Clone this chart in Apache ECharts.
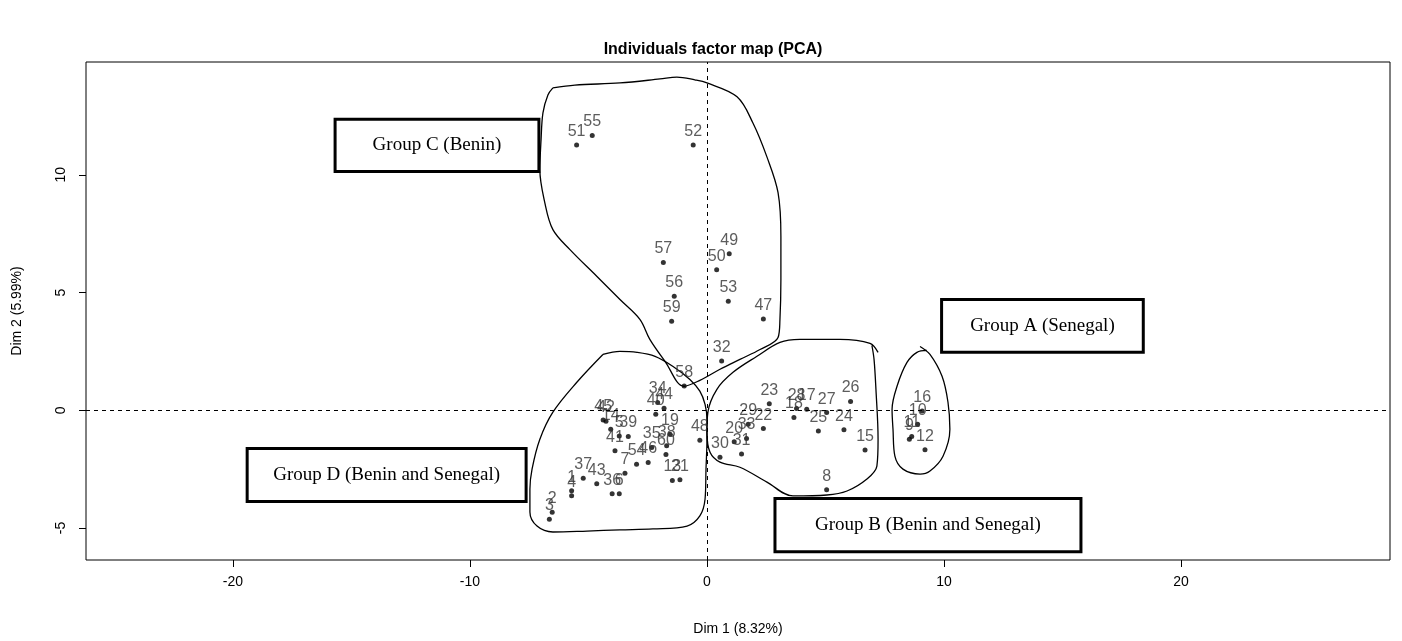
<!DOCTYPE html>
<html>
<head>
<meta charset="utf-8">
<script src="https://cdn.jsdelivr.net/npm/echarts@6/dist/echarts.min.js"></script>
<style>
  html, body { margin: 0; padding: 0; background: #fff; }
  #chart { width: 1402px; height: 641px; }
</style>
</head>
<body>
<div id="chart"></div>
<script>
var chartDom = document.getElementById('chart');
var myChart = echarts.init(chartDom);

// individuals (labels + coordinates on Dim 1 / Dim 2)
var pointIds = ['51', '55', '52', '57', '49', '50', '56', '53', '59', '47', '32', '58',
  '34', '44', '40', '45', '42', '14', '5', '39', '41', '35', '19', '38', '60', '54', '46', '7',
  '13', '21', '37', '43', '1', '4', '36', '6', '2', '3', '48',
  '23', '28', '18', '17', '27', '26', '25', '24', '15', '8', '22', '29', '33', '20', '31', '30',
  '16', '10', '11', '9', '12'];
var dim1 = [-5.50, -4.84, -0.58, -1.84, 0.94, 0.41, -1.38, 0.90, -1.49, 2.38, 0.62, -0.96,
  -2.08, -1.81, -2.16, -4.38, -4.26, -4.06, -3.70, -3.32, -3.88, -2.33, -1.56, -1.70, -1.73, -2.97, -2.48, -3.46,
  -1.46, -1.14, -5.22, -4.65, -5.71, -5.71, -4.00, -3.70, -6.53, -6.65, -0.30,
  2.63, 3.78, 3.67, 4.21, 5.05, 6.06, 4.70, 5.78, 6.67, 5.05, 2.38, 1.74, 1.67, 1.15, 1.46, 0.55,
  9.08, 8.89, 8.64, 8.54, 9.20];
var dim2 = [11.27, 11.67, 11.27, 6.28, 6.65, 5.97, 4.84, 4.63, 3.78, 3.88, 2.09, 1.03,
  0.33, 0.08, -0.17, -0.41, -0.47, -0.81, -1.09, -1.11, -1.72, -1.58, -1.02, -1.51, -1.88, -2.29, -2.22, -2.68,
  -2.98, -2.95, -2.89, -3.12, -3.42, -3.63, -3.55, -3.55, -4.33, -4.63, -1.27,
  0.28, 0.07, -0.31, 0.04, -0.10, 0.37, -0.88, -0.83, -1.69, -3.38, -0.78, -0.59, -1.20, -1.34, -1.86, -2.00,
  -0.03, -0.59, -1.11, -1.23, -1.68];

var xTicks = [-20, -10, 0, 10, 20];
var yTicks = [-5, 0, 5, 10];

// hand drawn group outlines
var outlineA = [[8.99, 2.71], [9.41, 2.37], [9.92, 1.44], [10.17, 0.34], [10.25, -0.81], [9.96, -1.95],
  [9.41, -2.58], [8.99, -2.71], [8.27, -2.50], [7.93, -1.95], [7.85, -0.81], [7.81, 0.04],
  [8.02, 1.02], [8.44, 2.03], [8.86, 2.46], [9.28, 2.54]];
var outlineB = [[7.22, 2.46], [6.88, 2.84], [5.61, 3.01], [3.92, 3.01], [3.08, 2.88], [2.11, 2.29],
  [1.10, 1.61], [0.42, 0.89], [0.04, -0.08], [0.00, -0.93], [0.13, -1.78], [0.55, -2.20],
  [1.39, -2.42], [2.53, -3.05], [3.63, -3.64], [5.06, -3.60], [5.91, -3.43], [6.75, -2.92],
  [7.17, -2.37], [7.22, -1.23], [7.13, 0.89], [7.05, 2.16], [6.96, 2.75]];
var outlineC = [[-6.50, 13.69], [-5.57, 13.81], [-3.67, 13.90], [-1.98, 14.07], [-1.27, 14.15],
  [-0.51, 14.03], [0.00, 13.90], [1.27, 13.31], [1.94, 12.20], [2.53, 10.76], [3.00, 9.24],
  [3.12, 7.37], [3.12, 5.55], [3.08, 3.86], [3.00, 3.09], [2.24, 2.58], [1.39, 2.16], [0.55, 1.74],
  [-0.30, 1.27], [-0.97, 1.02], [-1.77, 2.08], [-2.41, 3.01], [-2.83, 3.86], [-3.67, 4.70],
  [-4.64, 5.68], [-5.78, 6.82], [-6.50, 7.67], [-6.84, 8.81], [-7.05, 10.21], [-7.00, 11.48],
  [-6.92, 12.63], [-6.71, 13.39], [-6.50, 13.69]];
var outlineD = [[-4.39, 2.37], [-3.67, 2.50], [-2.95, 2.46], [-2.19, 2.29], [-1.43, 1.86], [-0.72, 1.31],
  [-0.30, 0.81], [-0.08, 0.25], [0.00, -0.38], [0.00, -1.23], [-0.04, -2.50], [-0.08, -3.77],
  [-0.30, -4.49], [-0.84, -4.92], [-2.28, -5.04], [-3.67, -5.08], [-5.06, -5.13], [-6.50, -5.17],
  [-7.17, -4.92], [-7.47, -4.32], [-7.47, -3.35], [-7.38, -2.50], [-7.05, -1.23], [-6.50, -0.08],
  [-5.49, 1.19], [-4.39, 2.37]];

// group boxes: left, top, right, bottom (data units)
var boxLabels = ['Group A (Senegal)', 'Group B (Benin and Senegal)', 'Group C (Benin)', 'Group D (Benin and Senegal)'];
var boxX0 = [9.90, 2.87, -15.69, -19.40];
var boxY0 = [4.70, -3.75, 12.36, -1.62];
var boxX1 = [18.41, 15.78, -7.09, -7.63];
var boxY1 = [2.46, -6.01, 10.14, -3.88];

var points = [];
pointIds.forEach(function (id, i) {
  points.push({ name: id, value: [dim1[i], dim2[i]] });
});

var boxes = [];
boxLabels.forEach(function (lab, i) {
  boxes.push([boxX0[i], boxY0[i], boxX1[i], boxY1[i]]);
});

function outlineSeries(data) {
  return {
    type: 'line',
    data: data,
    smooth: 0.35,
    symbol: 'none',
    silent: true,
    lineStyle: { color: '#000', width: 1.3 },
    z: 2
  };
}

var option = {
  animation: false,
  backgroundColor: '#fff',
  title: {
    text: 'Individuals factor map (PCA)',
    left: 708,
    top: 37,
    textAlign: 'center',
    textStyle: { fontFamily: 'Liberation Sans', fontSize: 16, fontWeight: 'bold', color: '#000' }
  },
  grid: {
    left: 86, right: 12, top: 62, bottom: 80,
    show: true, borderColor: '#000', borderWidth: 1
  },
  xAxis: {
    type: 'value',
    min: -26.2,
    max: 28.82,
    name: 'Dim 1 (8.32%)',
    nameLocation: 'middle',
    nameGap: 62,
    nameTextStyle: { fontFamily: 'Liberation Sans', fontSize: 14, color: '#000' },
    axisLine: { show: false, onZero: false },
    splitLine: { show: false },
    axisTick: { show: true, inside: false, length: 7, customValues: xTicks, lineStyle: { color: '#000' } },
    axisLabel: { customValues: xTicks, margin: 15, fontFamily: 'Liberation Sans', fontSize: 14, color: '#000' }
  },
  yAxis: {
    type: 'value',
    min: -6.36,
    max: 14.79,
    name: 'Dim 2 (5.99%)',
    nameLocation: 'middle',
    nameGap: 62,
    nameTextStyle: { fontFamily: 'Liberation Sans', fontSize: 14, color: '#000' },
    axisLine: { show: false, onZero: false },
    splitLine: { show: false },
    axisTick: { show: true, inside: false, length: 7, customValues: yTicks, lineStyle: { color: '#000' } },
    axisLabel: { customValues: yTicks, rotate: 90, margin: 18, fontFamily: 'Liberation Sans', fontSize: 14, color: '#000' }
  },
  series: [
    outlineSeries(outlineA),
    outlineSeries(outlineB),
    outlineSeries(outlineC),
    outlineSeries(outlineD),
    {
      type: 'custom',
      data: boxes,
      encode: { x: [0, 2], y: [1, 3] },
      silent: true,
      z: 3,
      renderItem: function (params, api) {
        var p0 = api.coord([api.value(0), api.value(1)]);
        var p1 = api.coord([api.value(2), api.value(3)]);
        return {
          type: 'group',
          children: [
            {
              type: 'rect',
              shape: { x: p0[0], y: p0[1], width: p1[0] - p0[0], height: p1[1] - p0[1] },
              style: { fill: '#fff', stroke: '#000', lineWidth: 3 }
            },
            {
              type: 'text',
              style: {
                text: boxLabels[params.dataIndex],
                x: (p0[0] + p1[0]) / 2,
                y: (p0[1] + p1[1]) / 2,
                align: 'center',
                verticalAlign: 'middle',
                font: '19px "Liberation Serif"',
                fill: '#000'
              }
            }
          ]
        };
      }
    },
    {
      type: 'scatter',
      data: points,
      symbol: 'circle',
      symbolSize: 5,
      itemStyle: { color: '#000' },
      z: 4,
      label: {
        show: true,
        position: 'top',
        distance: 3,
        formatter: '{b}',
        fontFamily: 'Liberation Sans',
        fontSize: 16,
        color: '#333'
      },
      markLine: {
        silent: true,
        symbol: 'none',
        label: { show: false },
        lineStyle: { color: '#000', type: [4, 4], width: 1 },
        data: [{ xAxis: 0 }, { yAxis: 0 }]
      }
    }
  ]
};

myChart.setOption(option);
</script>
</body>
</html>
